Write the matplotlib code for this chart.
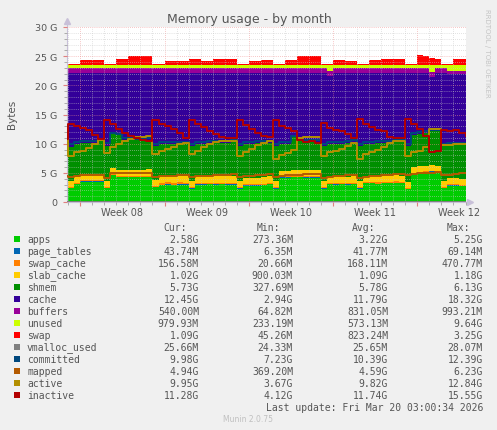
import matplotlib.pyplot as plt
import numpy as np
from matplotlib.patches import Rectangle
from matplotlib.ticker import FixedLocator, MultipleLocator, NullFormatter

# sample times in days from the left edge of the graph (half-day steps)
days = np.arange(-0.4, 33.2, 0.5)

# all values in GiB
apps = [3.4, 2.4, 3.1, 3.5, 3.5, 3.5, 3.5, 2.4, 4.6, 4.3,
        4.3, 4.3, 4.3, 4.3, 4.3, 2.5, 2.9, 3.0, 2.9, 3.0,
        3.0, 2.3, 3.0, 3.0, 3.1, 3.0, 3.1, 3.0, 3.0, 2.3,
        2.8, 2.8, 2.8, 2.9, 3.1, 2.3, 4.2, 4.2, 4.3, 4.3,
        4.2, 4.2, 4.2, 2.3, 3.1, 3.0, 3.1, 3.0, 3.1, 2.3,
        3.2, 3.2, 3.1, 3.2, 3.2, 3.3, 3.2, 2.2, 4.8, 5.0,
        5.1, 5.2, 5.1, 2.4, 2.8, 2.8, 2.7, 2.58]
page_tables = [0.04, 0.04, 0.04, 0.04, 0.05, 0.05, 0.05, 0.03, 0.04, 0.05,
               0.05, 0.05, 0.05, 0.05, 0.05, 0.03, 0.04, 0.04, 0.04, 0.04,
               0.04, 0.03, 0.04, 0.04, 0.04, 0.04, 0.04, 0.04, 0.04, 0.03,
               0.04, 0.04, 0.04, 0.04, 0.04, 0.03, 0.05, 0.05, 0.05, 0.05,
               0.05, 0.05, 0.05, 0.03, 0.04, 0.04, 0.04, 0.04, 0.04, 0.03,
               0.04, 0.04, 0.04, 0.04, 0.04, 0.04, 0.04, 0.03, 0.06, 0.06,
               0.06, 0.07, 0.06, 0.03, 0.04, 0.04, 0.04, 0.044]
swap_cache = [0.15, 0.15, 0.15, 0.15, 0.15, 0.15, 0.15, 0.2, 0.15, 0.15,
              0.15, 0.15, 0.15, 0.15, 0.15, 0.2, 0.35, 0.35, 0.35, 0.35,
              0.3, 0.2, 0.25, 0.25, 0.2, 0.25, 0.2, 0.25, 0.25, 0.2,
              0.25, 0.25, 0.25, 0.2, 0.2, 0.2, 0.15, 0.15, 0.15, 0.2,
              0.2, 0.2, 0.2, 0.2, 0.15, 0.15, 0.15, 0.2, 0.2, 0.2,
              0.25, 0.25, 0.25, 0.25, 0.2, 0.2, 0.2, 0.2, 0.1, 0.1,
              0.1, 0.1, 0.1, 0.15, 0.2, 0.2, 0.2, 0.16]
slab_cache = [1.05, 1.0, 1.05, 1.05, 1.05, 1.05, 1.1, 1.0, 1.0, 1.05,
              1.05, 1.05, 1.05, 1.05, 1.1, 1.0, 1.1, 1.1, 1.15, 1.1,
              1.1, 1.0, 1.1, 1.1, 1.1, 1.1, 1.1, 1.1, 1.1, 1.0,
              1.1, 1.1, 1.1, 1.1, 1.05, 1.0, 1.0, 1.0, 1.0, 1.0,
              1.0, 1.0, 1.0, 1.0, 1.05, 1.1, 1.05, 1.1, 1.05, 1.0,
              1.05, 1.05, 1.1, 1.05, 1.05, 1.05, 1.1, 1.0, 1.0, 1.0,
              0.95, 0.95, 0.95, 1.0, 1.05, 1.05, 1.05, 1.02]
shmem = [5.15, 5.9, 5.65, 5.35, 5.45, 5.45, 5.6, 5.95, 5.9, 5.95,
         5.15, 5.05, 5.05, 5.05, 5.0, 5.95, 5.6, 5.5, 5.55, 5.5,
         5.65, 6.05, 5.6, 5.6, 5.65, 5.7, 5.75, 5.8, 5.9, 6.05,
         5.8, 5.8, 5.9, 5.95, 5.8, 6.05, 4.6, 4.6, 5.7, 4.85,
         4.85, 4.85, 4.85, 6.05, 5.65, 5.7, 5.65, 5.75, 5.9, 6.05,
         5.45, 5.45, 5.6, 5.65, 5.7, 5.7, 5.75, 6.15, 5.55, 5.55,
         5.6, 6.0, 6.1, 6.1, 5.9, 5.9, 6.0, 5.73]
cache = [12.35, 12.65, 12.15, 12.05, 11.95, 11.95, 11.75, 12.55, 10.45, 10.65,
         11.45, 11.55, 11.55, 11.55, 11.55, 12.45, 12.15, 12.15, 12.15, 12.15,
         12.05, 12.55, 12.15, 12.15, 12.05, 12.05, 11.95, 11.95, 11.85, 12.55,
         12.15, 12.15, 12.05, 11.95, 11.95, 12.55, 12.15, 12.15, 10.95, 11.75,
         11.85, 11.85, 11.85, 12.55, 11.55, 12.15, 12.15, 12.05, 11.85, 12.55,
         12.15, 12.15, 12.05, 11.95, 11.95, 11.85, 11.85, 12.55, 10.65, 10.45,
         10.35, 9.1, 9.85, 12.45, 11.95, 11.95, 11.95, 12.45]
buffers = [0.85, 0.85, 0.86, 0.86, 0.85, 0.85, 0.84, 0.85, 0.86, 0.86,
           0.85, 0.85, 0.84, 0.84, 0.85, 0.85, 0.86, 0.86, 0.85, 0.85,
           0.84, 0.85, 0.86, 0.86, 0.85, 0.85, 0.84, 0.84, 0.85, 0.85,
           0.86, 0.86, 0.85, 0.85, 0.84, 0.85, 0.86, 0.86, 0.85, 0.85,
           0.84, 0.84, 0.85, 0.85, 0.85, 0.86, 0.86, 0.85, 0.85, 0.85,
           0.86, 0.86, 0.85, 0.85, 0.84, 0.84, 0.85, 0.85, 0.86, 0.86,
           0.85, 0.85, 0.84, 0.85, 0.55, 0.55, 0.55, 0.54]
unused = [0.45, 0.46, 0.45, 0.44, 0.45, 0.45, 0.46, 0.45, 0.45, 0.44,
          0.45, 0.45, 0.46, 0.45, 0.45, 0.45, 0.44, 0.45, 0.45, 0.46,
          0.45, 0.45, 0.44, 0.45, 0.45, 0.46, 0.45, 0.45, 0.45, 0.44,
          0.45, 0.45, 0.46, 0.45, 0.45, 0.45, 0.44, 0.45, 0.45, 0.46,
          0.45, 0.45, 0.45, 0.45, 1.05, 0.45, 0.44, 0.45, 0.46, 0.45,
          0.45, 0.44, 0.45, 0.45, 0.46, 0.45, 0.45, 0.45, 0.44, 0.45,
          0.45, 1.2, 0.45, 0.45, 0.95, 0.95, 0.95, 0.98]
swap = [1.3, 0.25, 0.25, 0.95, 0.95, 0.95, 0.95, 0.25, 0.25, 1.05,
        1.05, 1.65, 1.65, 1.65, 1.65, 0.15, 0.15, 0.75, 0.75, 0.75,
        0.75, 1.15, 1.15, 0.75, 0.75, 1.05, 1.05, 1.05, 1.05, 0.25,
        0.25, 0.65, 0.65, 0.95, 0.95, 0.25, 0.25, 0.85, 0.85, 1.55,
        1.55, 1.55, 1.55, 0.15, 0.15, 0.95, 0.95, 0.75, 0.75, 0.15,
        0.15, 0.95, 0.95, 1.05, 1.05, 1.05, 1.05, 0.15, 0.15, 1.65,
        1.65, 1.15, 1.15, 0.15, 0.15, 1.05, 1.05, 1.09]
vmalloc_used = [0.025, 0.025, 0.025, 0.025, 0.026, 0.025, 0.025, 0.025, 0.025, 0.025,
                0.025, 0.026, 0.025, 0.025, 0.025, 0.025, 0.025, 0.025, 0.026, 0.025,
                0.025, 0.025, 0.025, 0.025, 0.025, 0.025, 0.026, 0.025, 0.025, 0.025,
                0.025, 0.025, 0.025, 0.026, 0.025, 0.025, 0.025, 0.025, 0.025, 0.025,
                0.025, 0.025, 0.026, 0.025, 0.025, 0.025, 0.025, 0.025, 0.025, 0.025,
                0.026, 0.025, 0.025, 0.025, 0.025, 0.025, 0.025, 0.025, 0.028, 0.027,
                0.026, 0.026, 0.025, 0.025, 0.025, 0.025, 0.025, 0.0257]
committed = [10.1, 9.9, 10.3, 10.4, 10.5, 10.5, 10.6, 10.2, 11.8, 11.6,
             10.9, 10.9, 10.8, 10.9, 10.9, 10.0, 10.3, 10.3, 10.3, 10.3,
             10.3, 10.0, 10.3, 10.3, 10.4, 10.4, 10.5, 10.5, 10.6, 10.0,
             10.3, 10.3, 10.4, 10.5, 10.5, 10.0, 10.3, 10.3, 11.4, 10.6,
             10.6, 10.6, 10.6, 10.0, 10.3, 10.3, 10.3, 10.4, 10.6, 10.0,
             10.3, 10.3, 10.4, 10.5, 10.5, 10.6, 10.6, 10.0, 11.8, 12.0,
             12.1, 12.4, 12.4, 10.0, 10.2, 10.2, 10.2, 9.98]
mapped = [4.5, 4.3, 4.5, 4.55, 4.6, 4.6, 4.7, 4.2, 4.9, 5.0,
          5.0, 5.0, 5.05, 5.05, 5.05, 4.3, 4.4, 4.45, 4.5, 4.55,
          4.6, 4.3, 4.4, 4.45, 4.5, 4.55, 4.6, 4.7, 4.75, 4.3,
          4.45, 4.5, 4.6, 4.7, 4.75, 4.3, 4.5, 4.55, 4.6, 4.7,
          4.75, 4.8, 4.8, 4.2, 4.35, 4.45, 4.5, 4.6, 4.7, 4.2,
          4.35, 4.45, 4.5, 4.6, 4.7, 4.75, 4.8, 4.7, 4.8, 4.9,
          5.0, 5.05, 5.1, 4.6, 4.7, 4.8, 4.9, 4.94]
active = [10.8, 7.9, 8.5, 8.8, 9.3, 10.0, 10.6, 8.4, 9.5, 10.0,
          10.4, 10.8, 11.2, 11.2, 11.3, 8.2, 8.8, 9.1, 9.4, 9.9,
          10.2, 8.3, 8.8, 9.4, 9.9, 10.3, 10.5, 10.4, 10.5, 7.9,
          8.6, 9.1, 9.7, 10.1, 10.5, 7.4, 8.1, 8.4, 8.9, 10.9,
          11.1, 11.1, 11.1, 7.9, 8.5, 8.8, 9.1, 9.6, 10.1, 7.4,
          8.2, 8.5, 9.0, 9.5, 10.2, 10.4, 10.4, 7.9, 8.5, 8.8,
          9.4, 12.5, 12.6, 9.7, 9.8, 10.0, 10.0, 9.95]
inactive = [10.8, 13.4, 13.1, 12.7, 12.3, 11.5, 10.8, 14.0, 13.4, 12.6,
            11.8, 11.3, 11.0, 10.7, 10.4, 14.1, 13.3, 13.0, 12.5, 11.8,
            11.0, 14.0, 13.4, 12.8, 12.2, 11.7, 11.2, 11.0, 11.0, 14.1,
            13.2, 12.6, 11.8, 11.4, 11.1, 14.0, 13.1, 12.7, 12.1, 10.6,
            10.3, 10.5, 10.2, 13.6, 12.7, 12.4, 12.2, 11.6, 10.9, 14.2,
            13.3, 12.9, 12.4, 12.1, 11.2, 11.0, 10.9, 14.2, 13.3, 12.5,
            11.4, 8.6, 8.7, 12.4, 12.2, 12.4, 11.8, 11.28]

names = ['apps', 'page_tables', 'swap_cache', 'slab_cache', 'shmem', 'cache',
         'buffers', 'unused', 'swap', 'vmalloc_used', 'committed', 'mapped',
         'active', 'inactive']
colors = ['#00CC00', '#0066B3', '#FF8000', '#FFCC00', '#008F00', '#330099',
          '#990099', '#CCFF00', '#FF0000', '#808080', '#00487D', '#B35A00',
          '#B38F00', '#B30000']
cur_txt = ['2.58G', '43.74M', '156.58M', '1.02G', '5.73G', '12.45G', '540.00M',
           '979.93M', '1.09G', '25.66M', '9.98G', '4.94G', '9.95G', '11.28G']
min_txt = ['273.36M', '6.35M', '20.66M', '900.03M', '327.69M', '2.94G', '64.82M',
           '233.19M', '45.26M', '24.33M', '7.23G', '369.20M', '3.67G', '4.12G']
avg_txt = ['3.22G', '41.77M', '168.11M', '1.09G', '5.78G', '11.79G', '831.05M',
           '573.13M', '823.24M', '25.65M', '10.39G', '4.59G', '9.82G', '11.74G']
max_txt = ['5.25G', '69.14M', '470.77M', '1.18G', '6.13G', '18.32G', '993.21M',
           '9.64G', '3.25G', '28.07M', '12.39G', '6.23G', '12.84G', '15.55G']

week_starts = [1.1, 8.1, 15.1, 22.1, 29.1]
week_labels = ['Week 08', 'Week 09', 'Week 10', 'Week 11', 'Week 12']
y_ticks = [0, 5, 10, 15, 20, 25, 30]
y_labels = ['0', '5 G', '10 G', '15 G', '20 G', '25 G', '30 G']

W, H = 497, 431
txt = '#555555'
axcol = '#C8C0D8'
mono = 'DejaVu Sans Mono'

fig = plt.figure(figsize=(W / 100, H / 100), dpi=100, facecolor='#F0F0F0')
ax = fig.add_axes([67 / W, 1 - 203 / H, 399 / W, 175 / H])
ax.set_facecolor('white')

# stacked areas
stacked = [apps, page_tables, swap_cache, slab_cache, shmem, cache, buffers, unused, swap]
base = np.zeros(len(days))
for vals, col in zip(stacked, colors[:9]):
    top = base + np.array(vals)
    ax.fill_between(days, base, top, step='post', color=col, lw=0,
                    antialiased=False, zorder=1)
    base = top

# lines on top
for vals, col in zip([vmalloc_used, committed, mapped, active, inactive], colors[9:]):
    ax.step(days, vals, where='post', color=col, lw=1.4, zorder=3)

ax.set_xlim(0, 33.14)
ax.set_ylim(0, 30)
ax.xaxis.set_major_locator(FixedLocator(week_starts))
ax.xaxis.set_minor_locator(FixedLocator(np.arange(0.1, 33.2, 1.0)))
ax.xaxis.set_major_formatter(NullFormatter())
ax.yaxis.set_major_locator(FixedLocator(y_ticks))
ax.set_yticklabels(y_labels)
ax.yaxis.set_minor_locator(MultipleLocator(1))

ax.set_axisbelow(False)
ax.grid(which='minor', color='#C8C8C8', lw=0.5, ls=(0, (1, 2)))
ax.grid(which='major', color='#F09090', lw=0.5, ls=(0, (1, 2)))

for s in ['top', 'right']:
    ax.spines[s].set_visible(False)
for s in ['left', 'bottom']:
    ax.spines[s].set_color(axcol)
    ax.spines[s].set_linewidth(0.8)

ax.tick_params(axis='y', which='minor', length=2, color='#A0A0A0')
ax.tick_params(axis='y', which='major', length=3, color='#E08080', pad=4,
               labelsize=6.8, labelcolor=txt)
ax.tick_params(axis='x', which='minor', length=2, color='#A0A0A0')
ax.tick_params(axis='x', which='major', length=3, color='#E08080')

for s, lab in zip(week_starts, week_labels):
    ax.text(s + 3.5, -0.057, lab, transform=ax.get_xaxis_transform(),
            ha='center', va='center', fontsize=7, color=txt)

# axis arrows
ax.plot([0, 0], [1.0, 1.035], transform=ax.transAxes, clip_on=False, color=axcol, lw=0.8)
ax.plot([0], [1.035], marker='^', ms=4, transform=ax.transAxes, clip_on=False,
        color=axcol, mec=axcol)
ax.plot([1.0, 1.01], [0, 0], transform=ax.transAxes, clip_on=False, color=axcol, lw=0.8)
ax.plot([1.01], [0], marker='>', ms=4, transform=ax.transAxes, clip_on=False,
        color=axcol, mec=axcol)

fig.text(249 / W, 1 - 19 / H, 'Memory usage - by month', ha='center', va='center',
         fontsize=9, color=txt)
fig.text(12 / W, 1 - 114 / H, 'Bytes', rotation=90, ha='center', va='center',
         fontsize=7.5, color=txt)
fig.text(487 / W, 1 - 53 / H, 'RRDTOOL / TOBI OETIKER', rotation=270, ha='center',
         va='center', fontsize=5, color='#C4C4C4')

# legend table
for label, xl in zip(['Cur:', 'Min:', 'Avg:', 'Max:'], [163, 257, 352, 447]):
    fig.text(xl / W, 1 - 228 / H, label, family=mono, fontsize=7, va='center', color=txt)

for i, (name, col) in enumerate(zip(names, colors)):
    y = 240 + 12 * i
    fig.patches.append(Rectangle((14 / W, 1 - (y + 3) / H), 6 / W, 6 / H,
                                 transform=fig.transFigure, facecolor=col,
                                 edgecolor='none'))
    fig.text(27 / W, 1 - y / H, name, family=mono, fontsize=7, va='center', color=txt)
    for col_txt, xr in zip([cur_txt, min_txt, avg_txt, max_txt], [199, 293, 388, 483]):
        fig.text(xr / W, 1 - y / H, col_txt[i], family=mono, fontsize=7,
                 ha='right', va='center', color=txt)

fig.text(483 / W, 1 - 408 / H, 'Last update: Fri Mar 20 03:00:34 2026', family=mono,
         fontsize=7, ha='right', va='center', color=txt)
fig.text(248 / W, 1 - 420 / H, 'Munin 2.0.75', ha='center', va='center',
         fontsize=5.5, color='#C0C0C0')

fig.savefig('out.png', dpi=100, facecolor=fig.get_facecolor())
